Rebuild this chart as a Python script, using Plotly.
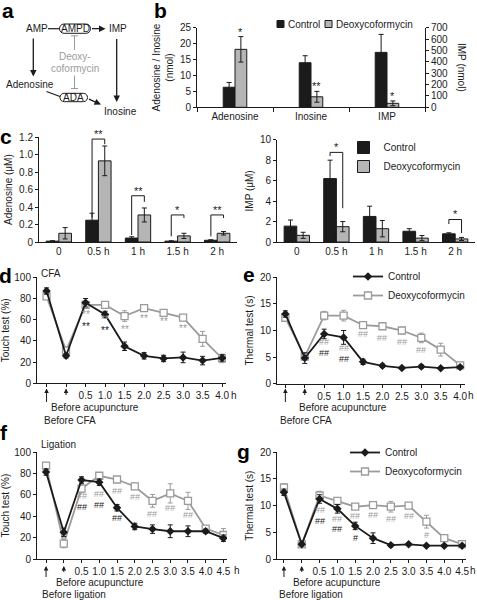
import plotly.graph_objects as go

W, H = 477, 600


def X(px):
    return px / W


def Y(py):
    return 1 - py / H


INK = "#1b1b1b"
GRAY = "#9b9b9b"
BAR_GRAY = "#b5b5b5"
FONT = "Liberation Sans, Arial, Helvetica, sans-serif"
FS = 10

# ---------------- data ----------------
# panel b
b_categories = ["Adenosine", "Inosine", "IMP"]
b_control_nmol = [6.3, 14.0]          # Adenosine, Inosine (left axis)
b_control_nmol_err = [1.5, 2.2]
b_deoxy_nmol = [18.2, 3.3]
b_deoxy_nmol_err = [4.0, 1.7]
b_control_imp = [483]                 # IMP (right axis)
b_control_imp_err = [158]
b_deoxy_imp = [35]
b_deoxy_imp_err = [21]
b_stars = ["*", "**", "*"]

# panel c
c_categories = ["0", "0.5 h", "1 h", "1.5 h", "2 h"]
c_aden_ticks = [0, 0.2, 0.4, 0.6, 0.8, 1.0, 1.2]
c_aden_ticklabels = ["0", "0.2", "0.4", "0.6", "0.8", "1.0", "1.2"]
c_aden_control = [0.01, 0.25, 0.045, 0.01, 0.02]
c_aden_control_err = [0.005, 0.08, 0.015, 0.004, 0.006]
c_aden_deoxy = [0.10, 0.93, 0.31, 0.07, 0.10]
c_aden_deoxy_err = [0.065, 0.17, 0.08, 0.03, 0.02]
c_aden_sig = ["", "**", "**", "*", "**"]
c_aden_br_top = [None, 1.18, 0.53, 0.31, 0.31]
c_aden_br_left = [None, 0.28, 0.08, 0.065, 0.065]
c_aden_br_right = [None, 1.12, 0.46, 0.275, 0.275]

c_imp_control = [1.55, 6.2, 2.5, 1.05, 0.8]
c_imp_control_err = [0.6, 1.8, 1.0, 0.25, 0.1]
c_imp_deoxy = [0.65, 1.5, 1.3, 0.38, 0.3]
c_imp_deoxy_err = [0.3, 0.5, 0.8, 0.25, 0.15]
c_imp_sig = ["", "*", "", "", "*"]
c_imp_br_top = [None, 8.76, None, None, 2.2]
c_imp_br_left = [None, 8.4, None, None, 1.76]
c_imp_br_right = [None, 3.3, None, None, 0.88]

# panels d, e (CFA)
de_time_labels = ["", "", "0.5", "1.0", "1.5", "2.0", "2.5", "3.0", "3.5", "4.0"]
d_control = [87, 26, 76, 65, 35, 26, 23.5, 24.5, 21.5, 24]
d_control_err = [3, 2, 4, 3, 4, 3, 3, 5, 4, 3]
d_deoxy = [82, 31, 74, 74, 63.5, 71, 66.5, 62, 42, 23.5]
d_deoxy_err = [3, 3, 3, 3, 5, 3, 2, 3, 7, 4]
d_deoxy_sig_x = [2, 3, 4, 5, 6, 7]
d_deoxy_sig_y = [64.5, 60.5, 51.2, 61.6, 58.8, 52.2]
d_deoxy_sig = ["**"] * 6
d_control_sig_x = [2, 3]
d_control_sig_y = [54.0, 49.8]
d_control_sig = ["**", "**"]

e_control = [13.1, 4.8, 9.35, 8.7, 4.1, 3.35, 2.95, 3.2, 2.9, 3.1]
e_control_err = [0.6, 1.0, 0.9, 1.3, 0.5, 0.3, 0.2, 0.3, 0.2, 0.3]
e_deoxy = [12.4, 5.1, 12.8, 12.8, 11.0, 10.8, 10.0, 8.6, 6.4, 3.45]
e_deoxy_err = [0.5, 0.6, 0.8, 1.0, 0.4, 0.5, 0.6, 0.9, 1.2, 0.3]
e_deoxy_sig_x = [2, 3, 4, 5, 6, 7]
e_deoxy_sig_y = [7.75, 6.7, 9.36, 8.6, 7.85, 6.4]
e_deoxy_sig = ["##"] * 6
e_control_sig_x = [2, 3]
e_control_sig_y = [5.7, 4.65]
e_control_sig = ["##", "##"]

# panels f, g (ligation)
fg_time_labels = ["", "", "0.5", "1.0", "1.5", "2.0", "2.5", "3.0", "3.5", "4.0", "4.5"]
f_control = [81.5, 25, 74, 72, 48, 30.5, 28, 26, 26, 26, 19.5]
f_control_err = [3, 4, 3, 3, 3, 3, 4, 6, 5, 2, 3]
f_deoxy = [87.5, 14.5, 66, 78, 74.5, 68, 54.5, 61.5, 54.5, 28.5, 22.5]
f_deoxy_err = [3, 4, 4, 2, 2, 3, 6, 9, 8, 2, 6]
f_deoxy_sig_x = [2, 3, 4, 5, 6, 7, 8]
f_deoxy_sig_y = [58.6, 60.8, 63.7, 58.4, 42.2, 47.5, 41.2]
f_deoxy_sig = ["##"] * 7
f_control_sig_x = [2, 3, 4]
f_control_sig_y = [48.6, 50.9, 38.1]
f_control_sig = ["##", "##", "##"]

g_control = [12.5, 2.75, 11.25, 9.4, 6.2, 3.9, 2.6, 2.75, 2.5, 2.5, 2.5]
g_control_err = [0.6, 0.3, 0.8, 0.8, 0.7, 1.0, 0.3, 0.2, 0.2, 0.2, 0.2]
g_deoxy = [13.4, 2.75, 11.9, 10.9, 9.8, 10.1, 9.8, 10.0, 7.0, 3.9, 2.8]
g_deoxy_err = [0.7, 0.3, 0.8, 0.5, 0.3, 0.3, 1.0, 0.3, 1.2, 0.6, 0.3]
g_deoxy_sig_x = [2, 3, 4, 5, 6, 7, 8]
g_deoxy_sig_y = [9.1, 7.5, 8.06, 8.25, 7.5, 8.06, 4.5]
g_deoxy_sig = ["##", "##", "##", "##", "##", "##", "#"]
g_control_sig_x = [2, 3, 4]
g_control_sig_y = [7.05, 5.55, 4.0]
g_control_sig = ["##", "##", "#"]

# ---------------- figure ----------------
fig = go.Figure()
ann = []
shapes = []


def ptext(t, px, py, color=INK, size=FS, xanchor="center", **kw):
    d = dict(x=X(px), y=Y(py), xref="paper", yref="paper", text=t, showarrow=False,
             xanchor=xanchor, yanchor="middle", font=dict(size=size, color=color))
    d.update(kw)
    ann.append(d)


def err(arr, color=INK):
    return dict(type="data", array=arr, color=color, thickness=1, width=2.5)


def bar(x, y, e, color, xa, ya, offset, width, name):
    fig.add_trace(go.Bar(
        x=x, y=y, error_y=err(e), xaxis=xa, yaxis=ya, name=name,
        offset=offset, width=width, showlegend=False,
        marker=dict(color=color, line=dict(color=INK, width=1)),
    ))


# panel b bars
BW_B = 0.155
bar(b_categories[:2], b_control_nmol, b_control_nmol_err, INK, "x", "y", -BW_B, BW_B, "Control")
bar(b_categories[:2], b_deoxy_nmol, b_deoxy_nmol_err, BAR_GRAY, "x", "y", 0, BW_B, "Deoxycoformycin")
bar(b_categories[2:], b_control_imp, b_control_imp_err, INK, "x", "y2", -BW_B, BW_B, "Control")
bar(b_categories[2:], b_deoxy_imp, b_deoxy_imp_err, BAR_GRAY, "x", "y2", 0, BW_B, "Deoxycoformycin")

star_top = [b_deoxy_nmol[0] + b_deoxy_nmol_err[0], b_deoxy_nmol[1] + b_deoxy_nmol_err[1],
            b_deoxy_imp[0] + b_deoxy_imp_err[0]]
star_yref = ["y", "y", "y2"]
for i, s in enumerate(b_stars):
    ann.append(dict(x=i + BW_B / 2, y=star_top[i], xref="x", yref=star_yref[i], text=s,
                    showarrow=False, xanchor="center", yanchor="bottom", yshift=-3,
                    font=dict(size=11, color=INK)))

# panel b legend (square swatches + text)
for px, col, label in [(277, INK, "Control"), (325, BAR_GRAY, "Deoxycoformycin")]:
    shapes.append(dict(type="rect", xref="paper", yref="paper", x0=X(px), x1=X(px + 7),
                       y0=Y(27.5), y1=Y(20.5), fillcolor=col, line=dict(color=INK, width=1)))
    ptext(label, px + 9, 24, xanchor="left")
ptext("IMP (nmol)", 462, 67, textangle=90)

# panel c bars
BW_C = 0.32
for (xa, ya, ctrl, ctrl_e, deo, deo_e, sig, top, left, right) in [
    ("x2", "y3", c_aden_control, c_aden_control_err, c_aden_deoxy, c_aden_deoxy_err,
     c_aden_sig, c_aden_br_top, c_aden_br_left, c_aden_br_right),
    ("x3", "y4", c_imp_control, c_imp_control_err, c_imp_deoxy, c_imp_deoxy_err,
     c_imp_sig, c_imp_br_top, c_imp_br_left, c_imp_br_right),
]:
    show = xa == "x3"
    fig.add_trace(go.Bar(x=c_categories, y=ctrl, error_y=err(ctrl_e), xaxis=xa, yaxis=ya,
                         name="Control", offset=-BW_C, width=BW_C, showlegend=show, legend="legend",
                         marker=dict(color=INK, line=dict(color=INK, width=1))))
    fig.add_trace(go.Bar(x=c_categories, y=deo, error_y=err(deo_e), xaxis=xa, yaxis=ya,
                         name="Deoxycoformycin", offset=0, width=BW_C, showlegend=show, legend="legend",
                         marker=dict(color=BAR_GRAY, line=dict(color=INK, width=1))))
    for i, s in enumerate(sig):
        if not s:
            continue
        xl, xr = i - BW_C / 2, i + BW_C / 2
        ln = dict(color=INK, width=1)
        shapes.append(dict(type="line", xref=xa, yref=ya, x0=xl, x1=xl, y0=left[i], y1=top[i], line=ln))
        shapes.append(dict(type="line", xref=xa, yref=ya, x0=xl, x1=xr, y0=top[i], y1=top[i], line=ln))
        shapes.append(dict(type="line", xref=xa, yref=ya, x0=xr, x1=xr, y0=right[i], y1=top[i], line=ln))
        ann.append(dict(x=i, y=top[i], xref=xa, yref=ya, text=s, showarrow=False,
                        xanchor="center", yanchor="bottom", yshift=-3, font=dict(size=11, color=INK)))


# line panels
def lines(xa, ya, ctrl, ctrl_e, deo, deo_e, legend=None):
    idx = list(range(len(ctrl)))
    show = legend is not None
    fig.add_trace(go.Scatter(
        x=idx, y=deo, mode="lines+markers", xaxis=xa, yaxis=ya, name="Deoxycoformycin",
        line=dict(color=GRAY, width=1.8), error_y=err(deo_e, GRAY),
        marker=dict(symbol="square", size=7, color="white", line=dict(color=GRAY, width=1.3)),
        showlegend=show, legend=legend, legendrank=2))
    fig.add_trace(go.Scatter(
        x=idx, y=ctrl, mode="lines+markers", xaxis=xa, yaxis=ya, name="Control",
        line=dict(color=INK, width=1.8), error_y=err(ctrl_e, INK),
        marker=dict(symbol="diamond", size=6.5, color=INK),
        showlegend=show, legend=legend, legendrank=1))


lines("x4", "y5", d_control, d_control_err, d_deoxy, d_deoxy_err)
lines("x5", "y6", e_control, e_control_err, e_deoxy, e_deoxy_err, "legend2")
lines("x6", "y7", f_control, f_control_err, f_deoxy, f_deoxy_err)
lines("x7", "y8", g_control, g_control_err, g_deoxy, g_deoxy_err, "legend3")


def marks(xa, ya, xs, ys, texts, color, size):
    for x, y, t in zip(xs, ys, texts):
        ann.append(dict(x=x, y=y, xref=xa, yref=ya, text=t, showarrow=False,
                        xanchor="center", yanchor="middle", font=dict(size=size, color=color)))


marks("x4", "y5", d_deoxy_sig_x, d_deoxy_sig_y, d_deoxy_sig, GRAY, 10)
marks("x4", "y5", d_control_sig_x, d_control_sig_y, d_control_sig, INK, 10)
marks("x5", "y6", e_deoxy_sig_x, e_deoxy_sig_y, e_deoxy_sig, GRAY, 9)
marks("x5", "y6", e_control_sig_x, e_control_sig_y, e_control_sig, INK, 9)
marks("x6", "y7", f_deoxy_sig_x, f_deoxy_sig_y, f_deoxy_sig, GRAY, 9)
marks("x6", "y7", f_control_sig_x, f_control_sig_y, f_control_sig, INK, 9)
marks("x7", "y8", g_deoxy_sig_x, g_deoxy_sig_y, g_deoxy_sig, GRAY, 9)
marks("x7", "y8", g_control_sig_x, g_control_sig_y, g_control_sig, INK, 9)


# arrows + notes below the line panels
def below(xa, head_py, tails, texts, h_px, tick_py):
    for i, tail in enumerate(tails):
        ann.append(dict(x=i, y=Y(head_py), xref=xa, yref="paper", text="", showarrow=True,
                        ax=0, ay=tail - head_py, arrowhead=2, arrowsize=0.9, arrowwidth=1,
                        arrowcolor=INK))
    for (px, py, t) in texts:
        ptext(t, px, py, xanchor="left")
    ptext("h", h_px, tick_py)


below("x4", 388.5, [403.5, 396.5], [(49, 407.5, "Before acupuncture"), (41.5, 420, "Before CFA")], 234, 395.5)
below("x5", 388.5, [403.5, 396.5], [(296.5, 407.5, "Before acupuncture"), (278, 420, "Before CFA")], 471, 395.5)
below("x6", 566, [578.5, 573.5], [(54, 582, "Before acupuncture"), (40, 594, "Before ligation")], 236.5, 570.5)
below("x7", 566, [578.5, 573.5], [(291, 582, "Before acupuncture"), (276.5, 594, "Before ligation")], 472.5, 570.5)

ptext("CFA", 39, 273, xanchor="left")
ptext("Ligation", 39, 444, xanchor="left")

# panel letters
for t, px, py in [("a", 8, 10.5), ("b", 160, 10.5), ("c", 6, 137), ("d", 5, 275.5),
                  ("e", 248.5, 275), ("f", 4, 432.5), ("g", 243, 451)]:
    ptext("<b>%s</b>" % t, px, py, color="black", size=21)


# ---------------- panel a diagram ----------------
def pill(x0, x1, y0, y1):
    r = (y1 - y0) / 2
    k = 4 / 3 * r
    pts = [("M", [(x0 + r, y0)]), ("L", [(x1 - r, y0)]),
           ("C", [(x1 - r + k, y0), (x1 - r + k, y1), (x1 - r, y1)]),
           ("L", [(x0 + r, y1)]),
           ("C", [(x0 + r - k, y1), (x0 + r - k, y0), (x0 + r, y0)])]
    s = ""
    for cmd, ps in pts:
        s += cmd + " ".join("%.5f,%.5f" % (X(a), Y(b)) for a, b in ps) + " "
    return s + "Z"


shapes.append(dict(type="path", xref="paper", yref="paper", path=pill(59.5, 90.5, 24, 33.3),
                   line=dict(color=INK, width=1)))
shapes.append(dict(type="path", xref="paper", yref="paper", path=pill(60, 87.5, 93.3, 101.7),
                   line=dict(color=INK, width=1)))


def seg(x0, y0, x1, y1, color=INK, w=1.2):
    shapes.append(dict(type="line", xref="paper", yref="paper", x0=X(x0), y0=Y(y0), x1=X(x1), y1=Y(y1),
                       line=dict(color=color, width=w)))


def arrow(hx, hy, tx, ty):
    ann.append(dict(x=X(hx), y=Y(hy), xref="paper", yref="paper", text="", showarrow=True,
                    ax=tx - hx, ay=ty - hy, arrowhead=2, arrowsize=1, arrowwidth=1.3, arrowcolor=INK))


seg(48, 28.7, 59.5, 28.7)
arrow(105.5, 28.7, 90.5, 28.7)
arrow(33.3, 76.5, 33.3, 37)
arrow(116.7, 102, 116.7, 37.5)
seg(46.5, 91.5, 60, 96.5)
arrow(101, 104.5, 87.5, 98.5)
seg(74.5, 35.8, 74.5, 50, GRAY, 1)
seg(71, 35.8, 78, 35.8, GRAY, 1)
seg(74.5, 75.5, 74.5, 88.5, GRAY, 1)
seg(71, 88.5, 78, 88.5, GRAY, 1)

for t, px, py, col in [("AMP", 36.5, 28.5, INK), ("AMPD", 75, 28.7, INK), ("IMP", 117.5, 28.5, INK),
                       ("Deoxy-", 75, 56.7, GRAY), ("coformycin", 75, 68.3, GRAY),
                       ("Adenosine", 30, 85, INK), ("ADA", 73.7, 97.5, INK), ("Inosine", 121, 112, INK)]:
    ptext(t, px, py, color=col)

# ---------------- axes ----------------
base = dict(showline=True, linecolor=INK, linewidth=1, showgrid=False, zeroline=False,
            ticks="outside", ticklen=3, tickwidth=1, tickcolor=INK,
            tickfont=dict(size=FS, color=INK), automargin=False, fixedrange=True)


def yax(dom_bottom, dom_top, rng, dtick, title, anchor, **kw):
    d = dict(base, domain=[Y(dom_bottom), Y(dom_top)], range=rng, dtick=dtick, anchor=anchor,
             title=dict(text=title, font=dict(size=FS, color=INK), standoff=4))
    d.update(kw)
    return d


def xax(dom_left, dom_right, anchor, **kw):
    d = dict(base, domain=[X(dom_left), X(dom_right)], anchor=anchor)
    d.update(kw)
    return d


fig.update_layout(
    width=W, height=H, margin=dict(l=0, r=0, t=0, b=0, autoexpand=False),
    paper_bgcolor="white", plot_bgcolor="white",
    font=dict(family=FONT, size=FS, color=INK),
    barmode="overlay",
    xaxis=xax(197, 425, "y", type="category", categoryarray=b_categories, categoryorder="array",
              range=[-0.5, 2.5], tickson="boundaries", ticklen=4),
    yaxis=yax(107.3, 27.7, [0, 25], 5, "Adenosine / Inosine<br>(nmol)", "x"),
    yaxis2=dict(base, overlaying="y", side="right", anchor="x", range=[0, 700], dtick=100),
    xaxis2=xax(39, 237, "y3", type="category", range=[-0.5, 4.5], ticks=""),
    yaxis3=yax(242, 137.3, [0, 1.2], None, "Adenosine (\u03bcM)", "x2",
               tickvals=c_aden_ticks, ticktext=c_aden_ticklabels),
    xaxis3=xax(277, 475, "y4", type="category", range=[-0.5, 4.5], ticks=""),
    yaxis4=yax(242, 139.7, [0, 10], 2, "IMP (\u03bcM)", "x3"),
    xaxis4=xax(37, 226, "y5", range=[-0.49, 9.2], tickvals=list(range(len(de_time_labels))),
               ticktext=de_time_labels),
    yaxis5=yax(383.4, 277.3, [0, 100], 20, "Touch test (%)", "x4"),
    xaxis5=xax(277, 465, "y6", range=[-0.43, 9.25], tickvals=list(range(len(de_time_labels))),
               ticktext=de_time_labels),
    yaxis6=yax(383.6, 277.4, [0, 20], 5, "Thermal test (s)", "x5"),
    xaxis6=xax(37, 227, "y7", range=[-0.51, 10.2], tickvals=list(range(len(fg_time_labels))),
               ticktext=fg_time_labels),
    yaxis7=yax(559, 452.3, [0, 100], 20, "Touch test (%)", "x6"),
    xaxis7=xax(277, 466, "y8", range=[-0.39, 10.22], tickvals=list(range(len(fg_time_labels))),
               ticktext=fg_time_labels),
    yaxis8=yax(559, 452.3, [0, 20], 5, "Thermal test (s)", "x7"),
    legend=dict(x=X(343.5), y=Y(133), xanchor="left", yanchor="top", bgcolor="rgba(0,0,0,0)",
                font=dict(size=FS, color=INK), tracegroupgap=0),
    legend2=dict(x=X(348), y=Y(262), xanchor="left", yanchor="top", bgcolor="rgba(0,0,0,0)",
                 font=dict(size=FS, color=INK)),
    legend3=dict(x=X(345), y=Y(438), xanchor="left", yanchor="top", bgcolor="rgba(0,0,0,0)",
                 font=dict(size=FS, color=INK)),
    annotations=ann,
    shapes=shapes,
)

fig.write_html("out.html", config={"displayModeBar": False},
               post_script="document.body.style.margin='0px';")
